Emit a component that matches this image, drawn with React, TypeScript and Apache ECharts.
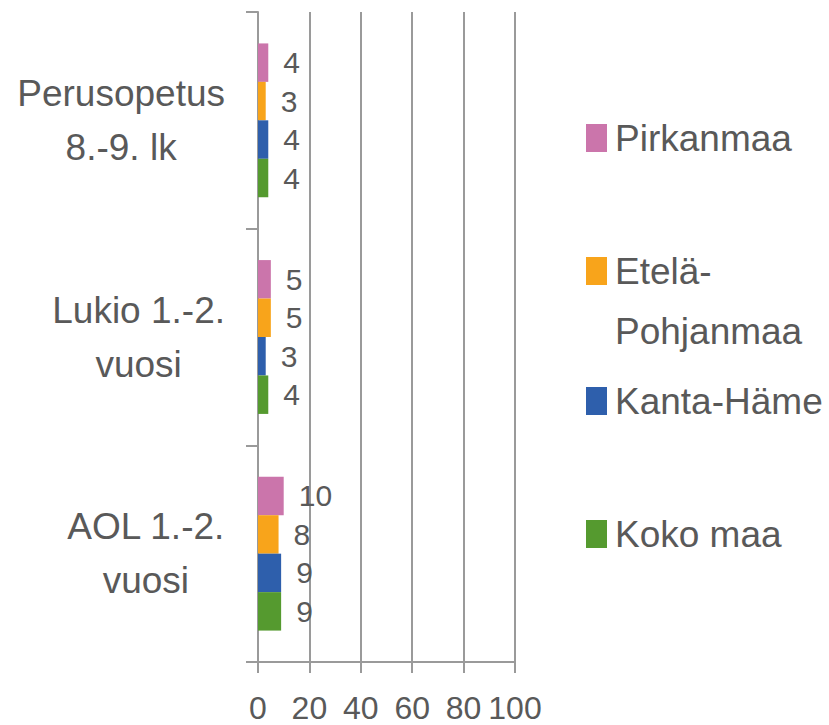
import { useEffect, useRef } from 'react';
import * as echarts from 'echarts';

const categories = ['Perusopetus\n8.-9. lk', 'Lukio 1.-2.\nvuosi', 'AOL 1.-2.\nvuosi'];
const seriesNames = ['Pirkanmaa', 'Etelä-Pohjanmaa', 'Kanta-Häme', 'Koko maa'];
const legendLabels = ['Pirkanmaa', 'Etelä-\nPohjanmaa', 'Kanta-Häme', 'Koko maa'];
const pirkanmaa = [4, 5, 10];
const etelaPohjanmaa = [3, 5, 8];
const kantaHame = [4, 3, 9];
const kokoMaa = [4, 4, 9];
const xMin = 0;
const xMax = 100;
const xInterval = 20;

const colors = ['#CB75AB', '#F8A41B', '#2E5FAC', '#559A2F'];
const FONT = "'Liberation Sans', Arial, sans-serif";
const TEXT = '#595959';
const LINE = '#9a9a9a';

export default function App() {
  const ref = useRef<HTMLDivElement>(null);
  useEffect(() => {
    if (!ref.current) return;
    const chart = echarts.init(ref.current, undefined, { renderer: 'svg' });
    const values = [pirkanmaa, etelaPohjanmaa, kantaHame, kokoMaa];
    const legendTops = [108, 181, 371, 504];
    chart.setOption({
      animation: false,
      backgroundColor: '#ffffff',
      grid: { left: 258, right: 314, top: 12, bottom: 63, containLabel: false, outerBoundsMode: 'none' },
      xAxis: {
        type: 'value',
        min: xMin,
        max: xMax,
        interval: xInterval,
        axisLine: { show: true, lineStyle: { color: LINE, width: 2 } },
        axisTick: { show: true, length: 11, lineStyle: { color: LINE, width: 2 } },
        splitLine: { show: true, lineStyle: { color: LINE, width: 2 } },
        axisLabel: { fontSize: 32, lineHeight: 32, fontFamily: FONT, color: TEXT, margin: 30 },
      },
      yAxis: {
        type: 'category',
        inverse: true,
        data: categories,
        axisLine: { show: true, lineStyle: { color: LINE, width: 2 } },
        axisTick: { show: true, length: 12, lineStyle: { color: LINE, width: 2 } },
        splitLine: { show: false },
        axisLabel: {
          align: 'right',
          margin: 33,
          formatter: (v: string) => v.split('\n').map((l) => `{c|${l}}`).join('\n'),
          rich: {
            c: { align: 'center', fontSize: 37, lineHeight: 54, fontFamily: FONT, color: TEXT },
          },
        },
      },
      legend: seriesNames.map((name, i) => ({
        orient: 'vertical',
        left: 586,
        top: legendTops[i],
        padding: 0,
        itemWidth: 21,
        itemHeight: 28,
        icon: 'rect',
        selectedMode: false,
        data: [name],
        formatter: () => legendLabels[i].split('\n').map((l) => `{a|${l}}`).join('\n'),
        textStyle: {
          fontSize: 37,
          lineHeight: 60,
          fontFamily: FONT,
          color: TEXT,
          padding: i === 1 ? [60, 0, 0, 3] : [0, 0, 0, 3],
          rich: {
            a: { fontSize: 37, lineHeight: 60, fontFamily: FONT, color: TEXT },
          },
        },
      })),
      series: seriesNames.map((name, i) => ({
        name,
        type: 'bar',
        data: values[i],
        barCategoryGap: '29%',
        barGap: '0%',
        itemStyle: { color: colors[i] },
        label: {
          show: true,
          position: 'right',
          distance: 15,
          fontSize: 30,
          fontFamily: FONT,
          color: TEXT,
        },
      })),
    });
    return () => chart.dispose();
  }, []);
  return <div ref={ref} style={{ position: 'fixed', left: 0, top: 0, width: 829, height: 725 }} />;
}
